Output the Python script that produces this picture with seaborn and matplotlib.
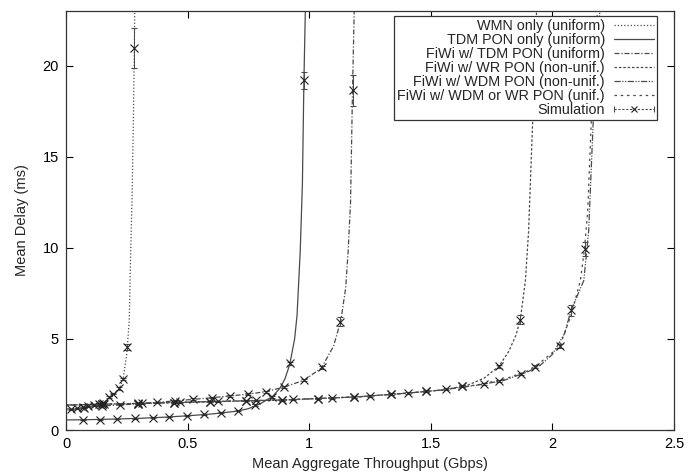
import numpy as np
import matplotlib
matplotlib.use("Agg")
import matplotlib.pyplot as plt
import seaborn as sns
from matplotlib.lines import Line2D
from matplotlib.legend_handler import HandlerLine2D, HandlerTuple

# analytical curves
wmn_x = [0, 0.05, 0.1, 0.15, 0.18, 0.2, 0.22, 0.235, 0.25, 0.26, 0.266, 0.272, 0.277, 0.281, 0.285]
wmn_y = [1.1, 1.16, 1.25, 1.45, 1.72, 1.95, 2.3, 2.8, 4.2, 6.0, 9.8, 13.0, 17.0, 21.0, 26.0]

tdm_x = [0, 0.1, 0.2, 0.3, 0.4, 0.5, 0.6, 0.7, 0.75, 0.8, 0.85, 0.88, 0.9, 0.92, 0.94,
         0.95, 0.963, 0.972, 0.978, 0.984, 0.988]
tdm_y = [0.55, 0.57, 0.6, 0.64, 0.7, 0.78, 0.88, 1.03, 1.17, 1.45, 1.85, 2.3, 2.8, 3.6, 5.0,
         6.3, 9.8, 13.5, 19.0, 23.0, 26.0]

fiwi_tdm_x = [0, 0.075, 0.15, 0.3, 0.45, 0.6, 0.75, 0.82, 0.9, 0.98, 1.05, 1.1, 1.13, 1.15,
              1.16, 1.17, 1.178, 1.185, 1.19]
fiwi_tdm_y = [1.15, 1.22, 1.32, 1.44, 1.6, 1.77, 1.97, 2.1, 2.37, 2.74, 3.4, 4.6, 6.0, 7.8,
              9.8, 12.5, 18.6, 23.0, 26.0]

wr_nu_x = [0, 0.3, 0.6, 0.9, 1.2, 1.4, 1.55, 1.65, 1.72, 1.78, 1.82, 1.85, 1.868, 1.889,
           1.902, 1.919, 1.935, 1.94]
wr_nu_y = [1.37, 1.46, 1.55, 1.65, 1.82, 2.02, 2.2, 2.45, 2.85, 3.5, 4.3, 5.2, 6.06, 8.2,
           10.9, 17.0, 23.0, 26.0]

wdm_nu_x = [0, 0.3, 0.6, 0.9, 1.2, 1.4, 1.55, 1.7, 1.8, 1.9, 1.95, 2.0, 2.05, 2.077, 2.129,
            2.149, 2.168, 2.195, 2.205]
wdm_nu_y = [1.37, 1.46, 1.56, 1.65, 1.82, 2.02, 2.2, 2.48, 2.72, 3.2, 3.55, 4.15, 5.3, 6.57,
            8.2, 10.9, 17.0, 23.0, 26.0]

unif_x = [0, 0.3, 0.6, 0.9, 1.2, 1.4, 1.55, 1.7, 1.8, 1.9, 1.95, 2.0, 2.03, 2.077, 2.115,
          2.132, 2.145, 2.16, 2.185, 2.195]
unif_y = [1.35, 1.46, 1.56, 1.66, 1.82, 2.02, 2.2, 2.5, 2.78, 3.25, 3.7, 4.25, 4.6, 6.3, 8.2,
          9.94, 12.0, 17.0, 23.0, 26.0]

# simulation points
s_wmn_x = [0.02, 0.045, 0.07, 0.09, 0.115, 0.135, 0.151, 0.178, 0.195, 0.219, 0.236, 0.25, 0.281]
s_wmn_y = [1.15, 1.2, 1.25, 1.3, 1.36, 1.42, 1.5, 1.82, 2.0, 2.28, 2.8, 4.56, 20.98]
s_wmn_e = [0.03, 0.03, 0.03, 0.03, 0.03, 0.04, 0.04, 0.05, 0.05, 0.06, 0.08, 0.15, 1.1]

s_tdm_x = [0.069, 0.14, 0.211, 0.284, 0.357, 0.424, 0.497, 0.568, 0.638, 0.709, 0.778,
           0.846, 0.919, 0.978]
s_tdm_y = [0.55, 0.57, 0.6, 0.64, 0.68, 0.72, 0.78, 0.86, 0.94, 1.06, 1.37, 1.82, 3.65, 19.19]
s_tdm_e = [0.02, 0.02, 0.02, 0.02, 0.02, 0.02, 0.02, 0.02, 0.03, 0.03, 0.04, 0.05, 0.1, 0.45]

s_fiwi_tdm_x = [0.075, 0.15, 0.223, 0.298, 0.373, 0.449, 0.524, 0.6, 0.675, 0.75, 0.823,
                0.898, 0.977, 1.052, 1.128, 1.178]
s_fiwi_tdm_y = [1.22, 1.32, 1.38, 1.44, 1.51, 1.6, 1.7, 1.77, 1.86, 1.97, 2.1, 2.37, 2.74,
                3.43, 5.93, 18.64]
s_fiwi_tdm_e = [0.03, 0.03, 0.03, 0.03, 0.03, 0.03, 0.03, 0.03, 0.04, 0.04, 0.05, 0.05, 0.06,
                0.08, 0.25, 0.85]

s_wr_nu_x = [0.148, 0.297, 0.445, 0.593, 0.741, 0.887, 1.038, 1.185, 1.336, 1.48, 1.63,
             1.782, 1.868]
s_wr_nu_y = [1.42, 1.46, 1.5, 1.55, 1.6, 1.64, 1.71, 1.81, 1.97, 2.12, 2.43, 3.5, 6.06]
s_wr_nu_e = [0.03, 0.03, 0.03, 0.03, 0.03, 0.03, 0.03, 0.04, 0.04, 0.05, 0.05, 0.08, 0.25]

s_wdm_nu_x = [0.148, 0.297, 0.445, 0.593, 0.741, 0.887, 1.038, 1.185, 1.336, 1.48, 1.63,
              1.782, 1.93, 2.077]
s_wdm_nu_y = [1.41, 1.45, 1.5, 1.55, 1.6, 1.64, 1.71, 1.81, 1.97, 2.12, 2.43, 2.68, 3.47, 6.57]
s_wdm_nu_e = [0.03, 0.03, 0.03, 0.03, 0.03, 0.03, 0.03, 0.04, 0.04, 0.05, 0.05, 0.06, 0.08, 0.3]

s_unif_x = [0.156, 0.312, 0.468, 0.624, 0.78, 0.935, 1.093, 1.248, 1.406, 1.562, 1.717,
            1.872, 2.03, 2.132]
s_unif_y = [1.42, 1.47, 1.52, 1.57, 1.62, 1.68, 1.75, 1.86, 2.02, 2.23, 2.52, 3.07, 4.6, 9.94]
s_unif_e = [0.03, 0.03, 0.03, 0.03, 0.03, 0.03, 0.03, 0.04, 0.04, 0.05, 0.05, 0.06, 0.1, 0.4]

labels = ["WMN only (uniform)", "TDM PON only (uniform)", "FiWi w/ TDM PON (uniform)",
          "FiWi w/ WR PON (non-unif.)", "FiWi w/ WDM PON (non-unif.)",
          "FiWi w/ WDM or WR PON (unif.)", "Simulation"]

sns.set_style("ticks")
plt.rcParams["font.family"] = ["Liberation Sans", "DejaVu Sans"]
plt.rcParams["font.size"] = 10.5

fig, ax = plt.subplots(figsize=(6.92, 4.73), dpi=100)
fig.subplots_adjust(left=0.0954, right=0.974, bottom=0.0909, top=0.977)

gray = "#4a4a4a"
curves = [
    (wmn_x, wmn_y, (0, (1, 1.6))),
    (tdm_x, tdm_y, "-"),
    (fiwi_tdm_x, fiwi_tdm_y, (0, (4, 1.5, 1, 1.5))),
    (wr_nu_x, wr_nu_y, (0, (2, 1.5))),
    (wdm_nu_x, wdm_nu_y, (0, (5, 1.2, 1, 1.2, 1, 1.2))),
    (unif_x, unif_y, (0, (2, 3))),
]
handles = []
for cx, cy, ls in curves:
    sns.lineplot(x=cx, y=cy, ax=ax, color=gray, lw=0.9, linestyle=ls,
                 estimator=None, sort=False, legend=False)
    handles.append(ax.get_lines()[-1])

sims = [(s_wmn_x, s_wmn_y, s_wmn_e), (s_tdm_x, s_tdm_y, s_tdm_e),
        (s_fiwi_tdm_x, s_fiwi_tdm_y, s_fiwi_tdm_e), (s_wr_nu_x, s_wr_nu_y, s_wr_nu_e),
        (s_wdm_nu_x, s_wdm_nu_y, s_wdm_nu_e), (s_unif_x, s_unif_y, s_unif_e)]
for sx, sy, se in sims:
    ax.errorbar(sx, sy, yerr=se, fmt="x", color="#222222", ms=5.5, mew=0.8,
                elinewidth=0.7, ecolor=gray, capsize=2.5, capthick=0.7, ls="none")

ax.set_xlim(0, 2.5)
ax.set_ylim(0, 23)
ax.set_xticks([0, 0.5, 1, 1.5, 2, 2.5])
ax.set_xticklabels(["0", "0.5", "1", "1.5", "2", "2.5"])
ax.set_yticks([0, 5, 10, 15, 20])
ax.tick_params(direction="in", top=True, right=True, length=5, width=0.8, labelsize=10.5,
               colors="black", pad=5)
for sp in ax.spines.values():
    sp.set_color("#333333")
    sp.set_linewidth(0.9)
ax.set_xlabel("Mean Aggregate Throughput (Gbps)", fontsize=10.5, labelpad=4)
ax.set_ylabel("Mean Delay (ms)", fontsize=10.5, labelpad=10)

# simulation legend entry: |---x---|
caps = Line2D([], [], color=gray, lw=0.8, ls=(0, (2, 1.5)), marker="|", ms=5, mew=0.8)
xm = Line2D([], [], color="#222222", ls="none", marker="x", ms=5, mew=0.8)
handles.append((caps, xm))
leg = ax.legend(handles, labels, loc="upper right",
                bbox_to_anchor=(0.972, 0.987), borderaxespad=0, markerfirst=False,
                fancybox=False, framealpha=1, edgecolor="#333333", fontsize=10.4,
                handlelength=2.8, labelspacing=0.0, borderpad=0.2, handletextpad=0.6,
                handler_map={tuple: HandlerTuple(ndivide=1, pad=0),
                             caps: HandlerLine2D(numpoints=2, marker_pad=0),
                             xm: HandlerLine2D(numpoints=1)})
leg.get_frame().set_linewidth(0.9)
vp = leg._legend_box._children[-1]._children[0]
vp.align = "right"
for t in leg.get_texts():
    t.set_ha("right")

fig.savefig("out.png", dpi=100)
